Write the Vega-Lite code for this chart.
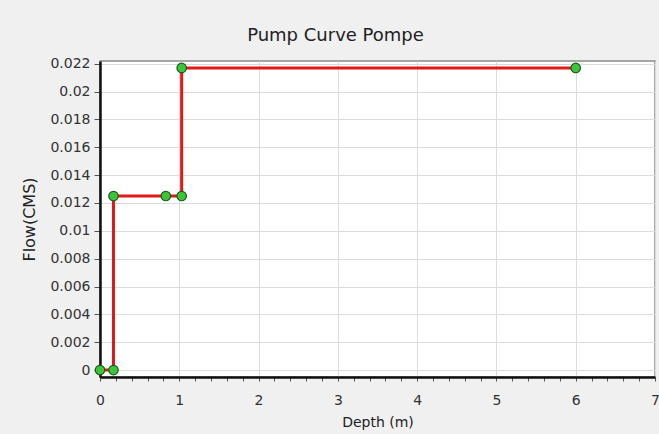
{
  "$schema": "https://vega.github.io/schema/vega-lite/v6.json",
  "width": 555,
  "height": 316,
  "autosize": {"type": "none"},
  "padding": {"left": 100, "top": 61, "right": 4, "bottom": 57},
  "background": "#f0f0f0",
  "title": {
    "text": "Pump Curve Pompe",
    "font": "DejaVu Sans",
    "fontSize": 18,
    "fontWeight": "normal",
    "color": "#222222",
    "anchor": "middle",
    "dx": -42,
    "offset": 12
  },
  "config": {
    "view": {"stroke": "#8a8a8a", "strokeWidth": 1.5, "fill": "white"},
    "axis": {
      "labelFont": "DejaVu Sans",
      "titleFont": "DejaVu Sans",
      "labelColor": "#333333",
      "titleColor": "#222222",
      "titleFontWeight": "normal",
      "gridColor": "#dcdcdc",
      "gridWidth": 1
    }
  },
  "data": {
    "values": [
      {"i": 1, "depth": 0, "flow": 0},
      {"i": 2, "depth": 0.17, "flow": 0},
      {"i": 3, "depth": 0.17, "flow": 0.0125},
      {"i": 4, "depth": 0.83, "flow": 0.0125},
      {"i": 5, "depth": 1.03, "flow": 0.0125},
      {"i": 6, "depth": 1.03, "flow": 0.0217},
      {"i": 7, "depth": 6, "flow": 0.0217}
    ]
  },
  "encoding": {
    "x": {
      "field": "depth",
      "type": "quantitative",
      "scale": {"domain": [0, 7], "nice": false, "zero": false},
      "axis": {
        "title": "Depth (m)",
        "titleFontSize": 14,
        "titlePadding": 8,
        "values": [0, 0.2, 0.4, 0.6, 0.8, 1, 1.2, 1.4, 1.6, 1.8, 2, 2.2, 2.4, 2.6, 2.8, 3, 3.2, 3.4, 3.6, 3.8, 4, 4.2, 4.4, 4.6, 4.8, 5, 5.2, 5.4, 5.6, 5.8, 6, 6.2, 6.4, 6.6, 6.8, 7],
        "labelExpr": "abs(datum.value - round(datum.value)) < 0.001 ? format(datum.value, 'd') : ''",
        "labelOverlap": false,
        "labelFlush": false,
        "labelFontSize": 14,
        "labelPadding": 12,
        "tickSize": 4,
        "tickColor": "#555555",
        "domainColor": "#111111",
        "domainWidth": 2.5,
        "gridOpacity": {"condition": {"test": "abs(datum.value - round(datum.value)) < 0.001", "value": 1}, "value": 0}
      }
    },
    "y": {
      "field": "flow",
      "type": "quantitative",
      "scale": {"domain": [-0.0005, 0.0222], "nice": false, "zero": false},
      "axis": {
        "title": "Flow(CMS)",
        "titleFontSize": 16,
        "titlePadding": 12,
        "values": [0, 0.002, 0.004, 0.006, 0.008, 0.01, 0.012, 0.014, 0.016, 0.018, 0.02, 0.022],
        "format": "~g",
        "labelFontSize": 14,
        "labelPadding": 4,
        "tickSize": 6,
        "tickColor": "#555555",
        "domainColor": "#111111",
        "domainWidth": 2.5
      }
    }
  },
  "layer": [
    {
      "mark": {"type": "line", "color": "#e01818", "strokeWidth": 3},
      "encoding": {"order": {"field": "i", "type": "quantitative"}}
    },
    {
      "mark": {"type": "point", "shape": "circle", "filled": true, "fill": "#3cc43c", "stroke": "#1a5a1a", "strokeWidth": 1.2, "size": 90, "opacity": 1},
      "encoding": {}
    }
  ]
}
